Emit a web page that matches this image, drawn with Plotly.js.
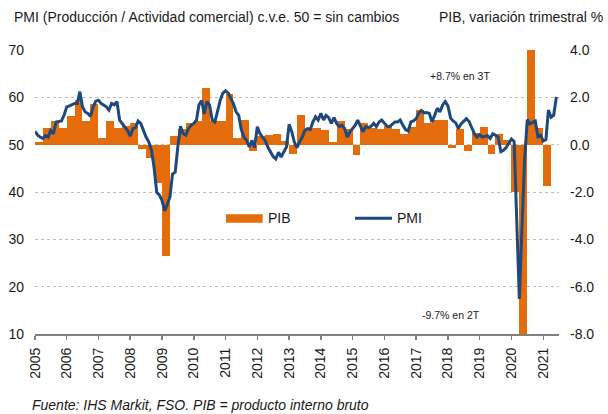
<!DOCTYPE html>
<html>
<head>
<meta charset="utf-8">
<script src="https://cdn.plot.ly/plotly-3.0.1.min.js"></script>
<style>
  html, body { margin: 0; padding: 0; background: #fff; }
  #chart { width: 608px; height: 414px; }
</style>
</head>
<body>
<div id="chart"></div>
<script>
// ---- Data ----
const pmiStart = [2005, 1]; // first month of PMI series (year, month)
const pmiValues = [
  // 2005
  52.8, 52.0, 51.6, 51.3, 51.9, 51.6, 53.0, 52.3, 54.8, 54.9, 55.0, 56.2,
  // 2006
  58.0, 58.2, 58.5, 58.7, 58.7, 61.2, 58.0, 56.9, 56.6, 56.0, 58.0, 59.2,
  // 2007
  59.4, 58.7, 58.4, 58.0, 57.3, 58.7, 58.4, 59.1, 55.2, 54.5, 53.8, 53.0,
  // 2008
  51.8, 53.4, 53.6, 55.0, 54.5, 53.0, 51.6, 50.6, 48.8, 45.2, 39.9, 39.4,
  // 2009
  38.2, 36.0, 37.4, 38.9, 43.8, 44.2, 49.5, 53.9, 52.3, 52.0, 53.4, 54.1,
  // 2010
  54.5, 55.2, 58.4, 59.3, 56.5, 59.1, 58.4, 55.2, 54.8, 57.0, 59.4, 60.9,
  // 2011
  61.4, 60.9, 60.0, 58.7, 57.0, 56.2, 53.2, 51.6, 50.9, 49.5, 50.9, 49.4,
  // 2012
  53.8, 52.3, 51.6, 50.9, 49.5, 48.4, 47.5, 47.0, 48.4, 47.4, 48.4, 49.5,
  // 2013
  54.3, 52.7, 50.6, 49.4, 50.6, 51.6, 53.0, 53.4, 53.2, 54.8, 55.9, 55.2,
  // 2014
  56.6, 55.2, 56.2, 55.7, 54.5, 55.7, 54.5, 53.8, 54.1, 53.4, 51.6, 52.7,
  // 2015
  53.4, 54.1, 55.2, 54.1, 52.7, 53.8, 53.6, 53.9, 54.5, 53.8, 54.8, 55.2,
  // 2016
  54.5, 53.9, 53.8, 54.3, 54.8, 54.8, 55.2, 54.1, 53.2, 52.9, 54.8, 55.0,
  // 2017
  55.5, 56.7, 57.2, 56.7, 56.8, 56.6, 54.8, 56.2, 57.7, 56.9, 58.4, 59.1,
  // 2018
  58.2, 55.6, 55.0, 54.6, 53.4, 54.4, 55.0, 55.5, 54.9, 53.5, 52.3, 51.6,
  // 2019
  52.1, 51.6, 51.8, 51.9, 51.3, 52.3, 52.0, 51.6, 48.5, 48.8, 49.4, 50.4,
  // 2020
  51.2, 50.7, 35.0, 17.4, 32.3, 47.0, 55.3, 54.4, 54.7, 55.0, 51.7, 52.0,
  // 2021
  50.8, 51.1, 57.3, 55.8, 56.2, 60.1
];

const pibStart = [2005, 1]; // first quarter of GDP series (year, quarter)
const pibValues = [
  // 2005
  0.1, 0.7, 1.0, 0.7,
  // 2006
  1.2, 1.9, 1.0, 1.7,
  // 2007
  0.3, 1.0, 0.7, 0.8,
  // 2008
  0.9, -0.2, -0.55, -1.6,
  // 2009
  -4.7, 0.35, 0.65, 0.9,
  // 2010
  1.0, 2.4, 1.0, 1.0,
  // 2011
  2.15, 0.3, 1.05, -0.25,
  // 2012
  0.35, 0.4, 0.45, 0.15,
  // 2013
  -0.4, 1.25, 0.7, 0.7,
  // 2014
  0.6, 0.1, 1.0, 0.65,
  // 2015
  -0.45, 0.9, 0.7, 0.65,
  // 2016
  0.8, 0.65, 0.45, 0.75,
  // 2017
  1.45, 0.9, 1.05, 1.05,
  // 2018
  -0.15, 0.65, -0.25, 0.5,
  // 2019
  0.75, -0.4, 0.45, 0.2,
  // 2020
  -2.0, -9.7, 8.7, 0.7,
  // 2021
  -1.75
];

const pmiTickVals = [10, 20, 30, 40, 50, 60, 70];
const pibTickVals = [-8, -6, -4, -2, 0, 2, 4];
const pibTickText = ['-8.0', '-6.0', '-4.0', '-2.0', '0.0', '2.0', '4.0'];

const leftTitle = 'PMI (Producción / Actividad comercial) c.v.e. 50 = sin cambios';
const rightTitle = 'PIB, variación trimestral %';
const sourceText = 'Fuente: IHS Markit, FSO. PIB = producto interno bruto';
const noteHigh = '+8.7% en 3T';
const noteLow = '-9.7% en 2T';

// ---- Build dates ----
function pad(n) { return (n < 10 ? '0' : '') + n; }
const pmiDates = pmiValues.map((v, i) => {
  const mIdx = (pmiStart[1] - 1) + i;
  const y = pmiStart[0] + Math.floor(mIdx / 12);
  const m = (mIdx % 12) + 1;
  return y + '-' + pad(m) + '-01';
});

const pibMid = [], pibWidth = [];
pibValues.forEach((v, i) => {
  const qIdx = (pibStart[1] - 1) + i;
  const y = pibStart[0] + Math.floor(qIdx / 4);
  const q = qIdx % 4;
  const start = Date.UTC(y, q * 3, 1);
  const end = Date.UTC(q === 3 ? y + 1 : y, q === 3 ? 0 : q * 3 + 3, 1);
  const mid = new Date((start + end) / 2);
  pibMid.push(mid.toISOString().slice(0, 19).replace('T', ' '));
  pibWidth.push(end - start);
});

const ORANGE = '#E46C0A';
const BLUE = '#1F497D';
const FONT = 'Liberation Sans, Arial, sans-serif';

const traces = [
  {
    type: 'bar',
    name: 'PIB',
    x: pibMid,
    y: pibValues,
    width: pibWidth,
    yaxis: 'y',
    marker: { color: ORANGE, line: { width: 0 } },
    showlegend: false,
    hoverinfo: 'x+y'
  },
  {
    type: 'scatter',
    mode: 'lines',
    name: 'PMI',
    x: pmiDates,
    y: pmiValues,
    yaxis: 'y2',
    line: { color: BLUE, width: 3 },
    showlegend: false
  }
];

// legend geometry helpers (paper coords)
const layout = {
  width: 608,
  height: 414,
  margin: { l: 35, r: 49, t: 50, b: 80 },
  paper_bgcolor: '#fff',
  plot_bgcolor: '#fff',
  font: { family: FONT, size: 14, color: '#1a1a1a' },
  bargap: 0,
  xaxis: {
    type: 'date',
    range: ['2005-01-01', '2021-07-01'],
    tick0: '2005-01-01',
    dtick: 'M12',
    tickformat: '%Y',
    tickangle: -90,
    ticks: 'outside',
    ticklen: 4,
    tickwidth: 1.5,
    tickcolor: '#808080',
    showline: true,
    linecolor: '#808080',
    linewidth: 2,
    showgrid: false,
    zeroline: false,
    tickfont: { family: FONT, size: 14, color: '#1a1a1a' },
    ticklabelstandoff: 2
  },
  yaxis: {
    side: 'right',
    range: [-8, 4],
    tickvals: pibTickVals,
    ticktext: pibTickText,
    showgrid: true,
    gridcolor: '#bdbdbd',
    griddash: 'dot',
    gridwidth: 1,
    zeroline: false,
    showline: false,
    ticks: '',
    tickfont: { family: FONT, size: 14, color: '#1a1a1a' },
    ticklabelstandoff: 10
  },
  yaxis2: {
    overlaying: 'y',
    side: 'left',
    range: [10, 70],
    tickvals: pmiTickVals,
    showgrid: false,
    zeroline: false,
    showline: false,
    ticks: '',
    tickfont: { family: FONT, size: 14, color: '#1a1a1a' },
    ticklabelstandoff: 10
  },
  shapes: [
    { type: 'rect', xref: 'paper', yref: 'paper', x0: 0.3645, x1: 0.4345, y0: 0.392, y1: 0.4215,
      fillcolor: ORANGE, line: { width: 0 } },
    { type: 'line', xref: 'paper', yref: 'paper', x0: 0.6107, x1: 0.6813, y0: 0.4074, y1: 0.4074,
      line: { color: BLUE, width: 3 } }
  ],
  annotations: [
    { xref: 'paper', yref: 'paper', x: -0.044, y: 1.116, xanchor: 'left', yanchor: 'middle',
      text: leftTitle, showarrow: false, font: { family: FONT, size: 14, color: '#1a1a1a' } },
    { xref: 'paper', yref: 'paper', x: 1.0878, y: 1.116, xanchor: 'right', yanchor: 'middle',
      text: rightTitle, showarrow: false, font: { family: FONT, size: 14, color: '#1a1a1a' } },
    { xref: 'paper', yref: 'paper', x: 0.4408, y: 0.4074, xanchor: 'left', yanchor: 'middle',
      text: 'PIB', showarrow: false, font: { family: FONT, size: 14, color: '#1a1a1a' } },
    { xref: 'paper', yref: 'paper', x: 0.687, y: 0.4074, xanchor: 'left', yanchor: 'middle',
      text: 'PMI', showarrow: false, font: { family: FONT, size: 14, color: '#1a1a1a' } },
    { xref: 'paper', yref: 'paper', x: 0.811, y: 0.908, xanchor: 'center', yanchor: 'middle',
      text: noteHigh, showarrow: false, font: { family: FONT, size: 10.5, color: '#1a1a1a' } },
    { xref: 'paper', yref: 'paper', x: 0.794, y: 0.0669, xanchor: 'center', yanchor: 'middle',
      text: noteLow, showarrow: false, font: { family: FONT, size: 10.5, color: '#1a1a1a' } },
    { xref: 'paper', yref: 'paper', x: -0.0095, y: -0.25, xanchor: 'left', yanchor: 'middle',
      text: '<i>' + sourceText + '</i>', showarrow: false, font: { family: FONT, size: 14, color: '#1a1a1a' } }
  ]
};

Plotly.newPlot('chart', traces, layout, { displayModeBar: false, staticPlot: true });
</script>
</body>
</html>
